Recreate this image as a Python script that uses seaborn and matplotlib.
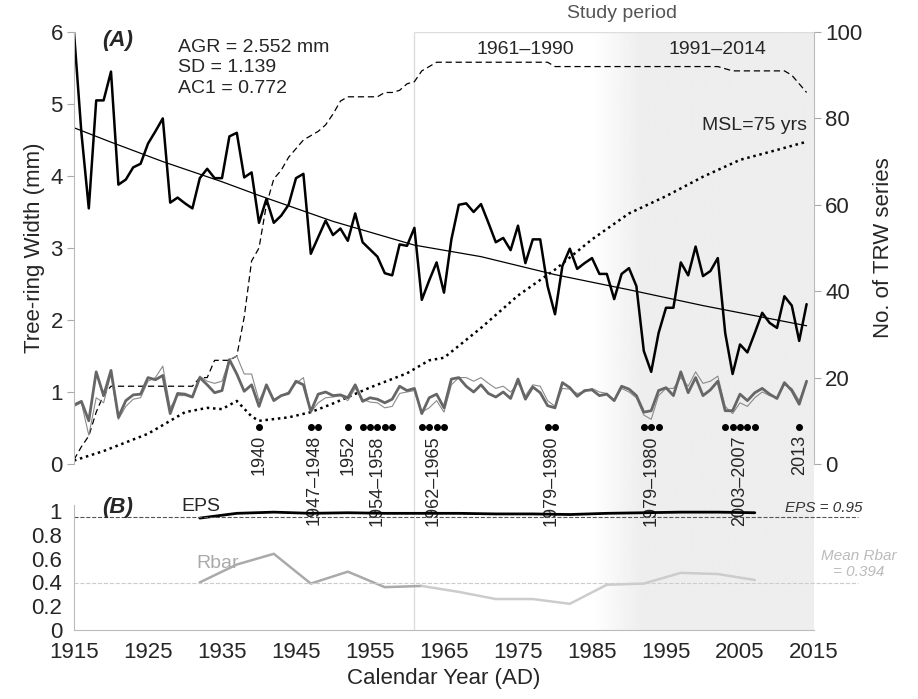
import numpy as np
import pandas as pd
import matplotlib
matplotlib.use("Agg")
import matplotlib.pyplot as plt
import seaborn as sns

sns.set_style("white")
plt.rcParams['font.family'] = ['Liberation Sans', 'DejaVu Sans']

years = list(range(1915, 2015))
trw = [6.0, 4.6, 3.55, 5.05, 5.05, 5.45, 3.88, 3.95, 4.12, 4.17,
       4.45, 4.62, 4.8, 3.63, 3.7, 3.62, 3.55, 3.97, 4.1, 3.97,
       3.97, 4.55, 4.6, 3.98, 4.05, 3.35, 3.68, 3.35, 3.45, 3.6,
       3.97, 4.03, 2.92, 3.15, 3.38, 3.18, 3.27, 3.1, 3.48, 3.08,
       2.98, 2.88, 2.65, 2.62, 3.05, 3.03, 3.28, 2.28, 2.55, 2.8,
       2.38, 3.12, 3.6, 3.62, 3.5, 3.61, 3.35, 3.08, 3.14, 2.97,
       3.31, 2.79, 3.12, 3.12, 2.47, 2.08, 2.75, 2.99, 2.71, 2.79,
       2.86, 2.64, 2.64, 2.29, 2.64, 2.72, 2.47, 1.57, 1.28, 1.82,
       2.17, 2.17, 2.8, 2.62, 3.02, 2.61, 2.68, 2.86, 1.82, 1.25,
       1.66, 1.55, 1.82, 2.1, 1.96, 1.89, 2.33, 2.2, 1.71, 2.22]
idx_dark = [0.82, 0.87, 0.6, 1.28, 0.95, 1.3, 0.65, 0.88, 0.96, 0.97,
            1.2, 1.17, 1.23, 0.7, 0.98, 0.97, 0.93, 1.2, 1.1, 0.99,
            1.02, 1.45, 1.25, 1.01, 1.1, 0.8, 1.1, 0.88, 0.95, 0.98,
            1.15, 1.1, 0.73, 0.97, 1.0, 0.95, 0.96, 0.92, 1.1, 0.87,
            0.92, 0.9, 0.85, 0.9, 1.08, 1.02, 1.05, 0.7, 0.92, 0.97,
            0.78, 1.18, 1.2, 1.08, 1.0, 1.1, 0.98, 0.93, 1.0, 0.91,
            1.18, 0.9, 1.07, 0.99, 0.81, 0.78, 1.13, 1.06, 0.94, 1.02,
            1.03, 0.95, 0.97, 0.88, 1.08, 1.04, 0.95, 0.72, 0.74, 1.02,
            1.06, 0.95, 1.28, 0.99, 1.2, 0.95, 1.03, 1.15, 0.74, 0.74,
            0.97, 0.88, 0.99, 1.05, 0.97, 0.91, 1.13, 1.02, 0.83, 1.15]
idx_light = [0.8, 0.85, 0.4, 0.92, 0.85, 1.25, 0.62, 0.8, 0.9, 0.92,
             1.15, 1.2, 1.36, 0.78, 0.95, 0.95, 0.92, 1.22, 1.15, 1.12,
             1.15, 1.45, 1.5, 1.25, 1.25, 0.88, 1.08, 0.9, 0.95, 1.0,
             1.12, 1.2, 0.72, 0.85, 0.92, 0.93, 0.95, 0.88, 1.05, 0.9,
             0.86, 0.85, 0.78, 0.8, 0.98, 1.0, 1.02, 0.72, 0.78, 0.88,
             0.72, 1.1, 1.2, 1.2, 1.15, 1.2, 1.12, 1.05, 1.08, 1.0,
             1.12, 0.95, 1.1, 1.08, 0.88, 0.8, 1.05, 1.04, 0.98, 1.0,
             1.05, 1.0, 0.98, 0.88, 1.05, 1.0, 0.92, 0.68, 0.62, 0.95,
             1.05, 1.05, 1.2, 1.08, 1.28, 1.12, 1.15, 1.22, 0.8, 0.7,
             0.85, 0.8, 0.92, 1.0, 0.95, 0.92, 1.1, 1.05, 0.88, 1.15]
depth = [1, 4, 6.5, 12, 16, 18, 18, 18, 18, 18,
         18, 18, 18, 18, 18, 18, 18, 20, 20, 24,
         24, 24, 25, 34, 47, 50, 60, 66, 68, 71,
         73, 75, 76, 77, 78.5, 81, 84, 85, 85, 85,
         85, 85, 86, 86, 86.5, 88, 88.5, 91, 92, 93,
         93, 93, 93, 93, 93, 93, 93, 93, 93, 93,
         93, 93, 93, 93, 93, 92, 92, 92, 92, 92,
         92, 92, 92, 92, 92, 92, 92, 92, 92, 92,
         92, 92, 92, 92, 92, 92, 92, 92, 91.5, 91,
         91, 91, 91, 91, 91, 91, 91, 90, 88, 86]

msl_years = [1915, 1919, 1925, 1930, 1933, 1935, 1937, 1939, 1940, 1944, 1947,
             1950, 1955, 1960, 1963, 1965, 1970, 1975, 1980, 1985, 1990,
             1995, 2000, 2005, 2010, 2014]
msl = [0.8, 3, 7, 12, 13, 12.7, 14.6, 11, 10, 10.8, 12,
       14, 17.7, 21, 24, 24.6, 31.5, 39, 45, 52, 58,
       62, 66.5, 70.4, 72.7, 74.6]

trend_years = [1915, 1920, 1927, 1935, 1940, 1950, 1961, 1970, 1980, 1990, 2000, 2014]
trend = [4.67, 4.47, 4.2, 3.92, 3.73, 3.37, 3.04, 2.88, 2.63, 2.42, 2.2, 1.92]

win_years = [1932, 1937, 1942, 1947, 1952, 1957, 1962, 1967, 1972, 1977,
             1982, 1987, 1992, 1997, 2002, 2007]
eps = [0.94, 0.98, 0.99, 0.98, 0.985, 0.98, 0.98, 0.98, 0.975, 0.975,
       0.97, 0.98, 0.985, 0.99, 0.99, 0.985]
rbar = [0.40, 0.55, 0.64, 0.39, 0.49, 0.36, 0.37, 0.32, 0.26, 0.26,
        0.22, 0.38, 0.39, 0.48, 0.47, 0.42]

event_labels = ["1940", "1947–1948", "1952", "1954–1958", "1962–1965",
                "1979–1980", "1979–1980", "2003–2007", "2013"]
event_years = [[1940], [1947, 1948], [1952], [1954, 1955, 1956, 1957, 1958],
               [1962, 1963, 1964, 1965], [1979, 1980], [1992, 1993, 1994],
               [2003, 2004, 2005, 2006, 2007], [2013]]

W, H = 918, 699
fig = plt.figure(figsize=(W / 100, H / 100), dpi=100)
L, R = 74 / W, 814 / W
top_pos = [L, 1 - 464 / H, R - L, 432 / H]
bot_pos = [L, 1 - 630 / H, R - L, 125 / H]

# background: study period box + grey shading for 1991-2014
bg = fig.add_axes([L, 1 - 630 / H, R - L, 598 / H], zorder=0)
bg.set_xlim(1915, 2015)
bg.set_ylim(0, 1)
bg.axis("off")
grad = np.linspace(1, 0.93, 70)
grad = np.concatenate([grad, np.full(230, 0.93)])
bg.imshow(grad[None, :], cmap="gray", vmin=0, vmax=1, aspect="auto",
          extent=(1985, 2015, 0, 1), zorder=0)
bg.plot([1961, 1961, 2015], [0, 1, 1], color="#dddddd", lw=1)

ax = fig.add_axes(top_pos, zorder=2)
ax.patch.set_alpha(0)
ax2 = ax.twinx()
ax2.set_zorder(1)
df = pd.DataFrame({"year": years, "trw": trw, "dark": idx_dark,
                   "light": idx_light, "depth": depth})
sns.lineplot(data=df, x="year", y="light", ax=ax, color="#8a8a8a", lw=0.8)
sns.lineplot(data=df, x="year", y="dark", ax=ax, color="#666666", lw=2)
sns.lineplot(data=df, x="year", y="trw", ax=ax, color="black", lw=1.8)
ax.plot(trend_years, trend, color="black", lw=0.9)
sns.lineplot(data=df, x="year", y="depth", ax=ax2, color="black", lw=0.9,
             linestyle=(0, (5, 3)))
ax2.plot(msl_years, msl, color="black", lw=1.8, linestyle=(0, (1, 1.5)))

for lab, ys in zip(event_labels, event_years):
    ax.scatter(ys, [0.52] * len(ys), s=16, color="black", zorder=5)
    xc = np.mean(ys)
    ax.text(xc, 0.40, lab, rotation=90, ha="center", va="top", fontsize=13,
            clip_on=False, zorder=6)

ax.set_xlim(1915, 2015)
ax.set_ylim(0, 6)
ax2.set_ylim(0, 100)
ax.set_xticks(range(1915, 2016, 10))
ax.set_xticklabels([])
ax.tick_params(axis="x", direction="in", length=6, color="#cccccc")
ax.tick_params(axis="y", labelsize=16, length=5, color="#aaaaaa", pad=3)
ax2.tick_params(axis="y", labelsize=16, length=5, color="#aaaaaa", pad=3)
ax.set_xlabel("")
ax.set_ylabel("Tree-ring Width (mm)", fontsize=16)
ax2.set_ylabel("No. of TRW series", fontsize=16, labelpad=8)
for a in (ax, ax2):
    for s in ("top", "bottom"):
        a.spines[s].set_visible(False)
    a.spines["left"].set_color("#bbbbbb")
    a.spines["right"].set_color("#bbbbbb")
ax.spines["right"].set_visible(False)
ax2.spines["left"].set_visible(False)

ax.text(1918.8, 5.8, "(A)", fontsize=16, fontweight="bold", style="italic")
ax.text(1929, 5.9, "AGR = 2.552 mm\nSD = 1.139\nAC1 = 0.772", fontsize=14,
        va="top", linespacing=1.25)
ax2.text(2014, 76.5, "MSL=75 yrs", ha="right", va="bottom", fontsize=14)
ax.text(1989, 6.2, "Study period", ha="center", fontsize=14, color="#555555",
        clip_on=False)
ax.text(1976, 5.7, "1961–1990", ha="center", fontsize=14)
ax.text(2002, 5.7, "1991–2014", ha="center", fontsize=14)

# (B) running EPS / Rbar
bx = fig.add_axes(bot_pos, zorder=2)
bx.patch.set_alpha(0)
bdf = pd.DataFrame({"year": win_years, "eps": eps, "rbar": rbar})
sns.lineplot(data=bdf, x="year", y="eps", ax=bx, color="black", lw=2)
sns.lineplot(data=bdf[bdf.year <= 1962], x="year", y="rbar", ax=bx,
             color="#aaaaaa", lw=1.8)
sns.lineplot(data=bdf[bdf.year >= 1962], x="year", y="rbar", ax=bx,
             color="#cccccc", lw=1.8)
bx.plot([1915, 2021], [0.95, 0.95], color="#555555", lw=0.8, ls="--",
        clip_on=False)
bx.plot([1915, 2021], [0.394, 0.394], color="#cccccc", lw=0.8, ls="--",
        clip_on=False)
bx.text(2021.5, 0.97, "EPS = 0.95", style="italic", fontsize=11, ha="right",
        va="bottom", color="#333333")
bx.text(2021, 0.43, "Mean Rbar\n= 0.394", style="italic", fontsize=11,
        ha="center", va="bottom", color="#bbbbbb")
bx.text(1918.8, 0.98, "(B)", fontsize=16, fontweight="bold", style="italic")
bx.text(1929.5, 1.0, "EPS", fontsize=14)
bx.text(1931.5, 0.52, "Rbar", fontsize=14, color="#aaaaaa")
bx.set_xlim(1915, 2015)
bx.set_ylim(0, 1.05)
bx.set_yticks([0, 0.2, 0.4, 0.6, 0.8, 1])
bx.set_yticklabels(["0", "0.2", "0.4", "0.6", "0.8", "1"])
bx.set_xticks(range(1915, 2016, 10))
bx.tick_params(labelsize=16, length=5, color="#aaaaaa")
bx.set_xlabel("Calendar Year (AD)", fontsize=16)
bx.set_ylabel("")
for s in ("top", "right"):
    bx.spines[s].set_visible(False)
bx.spines["left"].set_color("#bbbbbb")
bx.spines["bottom"].set_color("#bbbbbb")

fig.savefig("out.png", dpi=100)
